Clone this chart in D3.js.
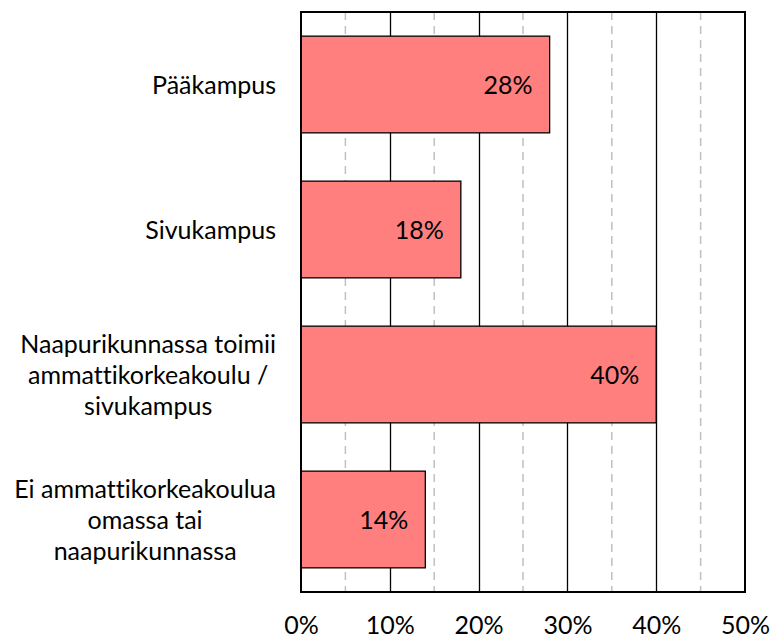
<!DOCTYPE html>
<html><head><meta charset="utf-8">
<script src="https://cdn.jsdelivr.net/npm/d3@7"></script>
<style>body{margin:0;background:#fff}svg{display:block}text{font-variant-ligatures:none;font-feature-settings:"liga" 0,"clig" 0}</style>
</head><body>
<svg id="c" width="771" height="638"></svg>
<script>
const categories = [
  ["Pääkampus"],
  ["Sivukampus"],
  ["Naapurikunnassa toimii", "ammattikorkeakoulu /", "sivukampus"],
  ["Ei ammattikorkeakoulua", "omassa tai", "naapurikunnassa"]
];
const values = [0.28, 0.18, 0.40, 0.14];
const majorTicks = [0, 0.1, 0.2, 0.3, 0.4, 0.5];
const minorTicks = [0.05, 0.15, 0.25, 0.35, 0.45];

const FONT = "Lato, 'Open Sans', sans-serif";
const FS = 25;
const svg = d3.select("#c");
const m = {left: 301, right: 745, top: 12, bottom: 592};
const x = d3.scaleLinear().domain([0, 0.5]).range([m.left, m.right]);
const y = d3.scaleBand().domain(d3.range(categories.length)).range([m.top, m.bottom]).paddingInner(0.333).paddingOuter(0.1665);

// minor dashed grid
svg.append("g").selectAll("line").data(minorTicks).join("line")
  .attr("x1", d => x(d)).attr("x2", d => x(d)).attr("y1", m.top).attr("y2", m.bottom)
  .attr("stroke", "#c0c0c0").attr("stroke-width", 1.5).attr("stroke-dasharray", "8,6");
// major grid
svg.append("g").selectAll("line").data(majorTicks.slice(1, -1)).join("line")
  .attr("x1", d => Math.round(x(d)) + 0.5).attr("x2", d => Math.round(x(d)) + 0.5).attr("y1", m.top).attr("y2", m.bottom)
  .attr("stroke", "#000").attr("stroke-width", 1.3);

// bars
svg.append("g").selectAll("rect").data(values).join("rect")
  .attr("x", x(0)).attr("y", (d, i) => y(i))
  .attr("width", d => x(d) - x(0)).attr("height", y.bandwidth())
  .attr("fill", "#ff7f7f").attr("stroke", "#000").attr("stroke-width", 1.3);

// value labels
svg.append("g").selectAll("text").data(values).join("text")
  .attr("x", d => x(d) - 17).attr("y", (d, i) => y(i) + y.bandwidth() / 2)
  .attr("dy", "0.36em").attr("text-anchor", "end")
  .style("font-family", FONT).style("font-size", FS + "px").attr("fill", "#000")
  .text(d => Math.round(d * 100) + "%");

// frame
svg.append("rect").attr("x", m.left).attr("y", m.top).attr("width", m.right - m.left).attr("height", m.bottom - m.top)
  .attr("fill", "none").attr("stroke", "#000").attr("stroke-width", 2);

// x axis labels
const xAxis = d3.axisBottom(x).tickValues(majorTicks).tickFormat(d3.format(".0%")).tickSize(0).tickPadding(0);
const ax = svg.append("g").attr("transform", `translate(0,${m.bottom})`).call(xAxis);
ax.select(".domain").remove();
ax.selectAll("text").attr("y", 0).attr("dy", 0).attr("transform", "translate(0,42)")
  .style("font-family", FONT).style("font-size", FS + "px").attr("fill", "#000");

// category labels (block right-aligned, lines centered)
const lh = 31;
const rightEdge = 276;
categories.forEach((lines, i) => {
  const g = svg.append("g");
  const texts = g.selectAll("text").data(lines).join("text")
    .style("font-family", FONT).style("font-size", FS + "px").attr("fill", "#000")
    .attr("text-anchor", "middle")
    .text(d => d);
  let maxW = 0;
  texts.each(function() { maxW = Math.max(maxW, this.getComputedTextLength()); });
  const cx = rightEdge - maxW / 2;
  const cy = y(i) + y.bandwidth() / 2;
  texts.attr("x", cx).attr("y", (d, j) => cy + (j - (lines.length - 1) / 2) * lh).attr("dy", "0.36em");
});
</script>
</body></html>
